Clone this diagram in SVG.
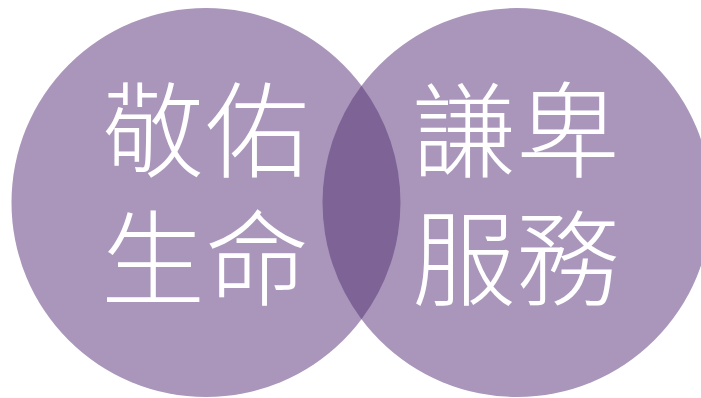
<svg xmlns="http://www.w3.org/2000/svg" width="701" height="398" viewBox="0 0 701 398">
  <style>
    .circle { fill: #A996BA; }
    .overlap { fill: #7E6396; }
    .label { fill: #FFFFFF; font-family: "Noto Sans CJK TC", "Noto Sans CJK SC", sans-serif; font-size: 104px; font-weight: 300; text-anchor: middle; }
  </style>
  <rect width="701" height="398" fill="#FFFFFF"/>
  <g id="node-left">
    <circle class="circle" cx="206" cy="202.5" r="194.5"/>
  </g>
  <g id="node-right">
    <circle class="circle" cx="517" cy="202.5" r="194.5"/>
  </g>
  <g id="node-overlap">
    <path class="overlap" d="M361.5,85.7 A194.5,194.5 0 0 1 361.5,319.3 A194.5,194.5 0 0 1 361.5,85.7 Z"/>
  </g>
  <g id="connectors"></g>
  <g id="text-left">
    <text class="label" x="205" y="170">敬佑</text>
    <text class="label" x="205" y="298">生命</text>
  </g>
  <g id="text-right">
    <text class="label" x="516" y="170">謙卑</text>
    <text class="label" x="516" y="298">服務</text>
  </g>
</svg>
